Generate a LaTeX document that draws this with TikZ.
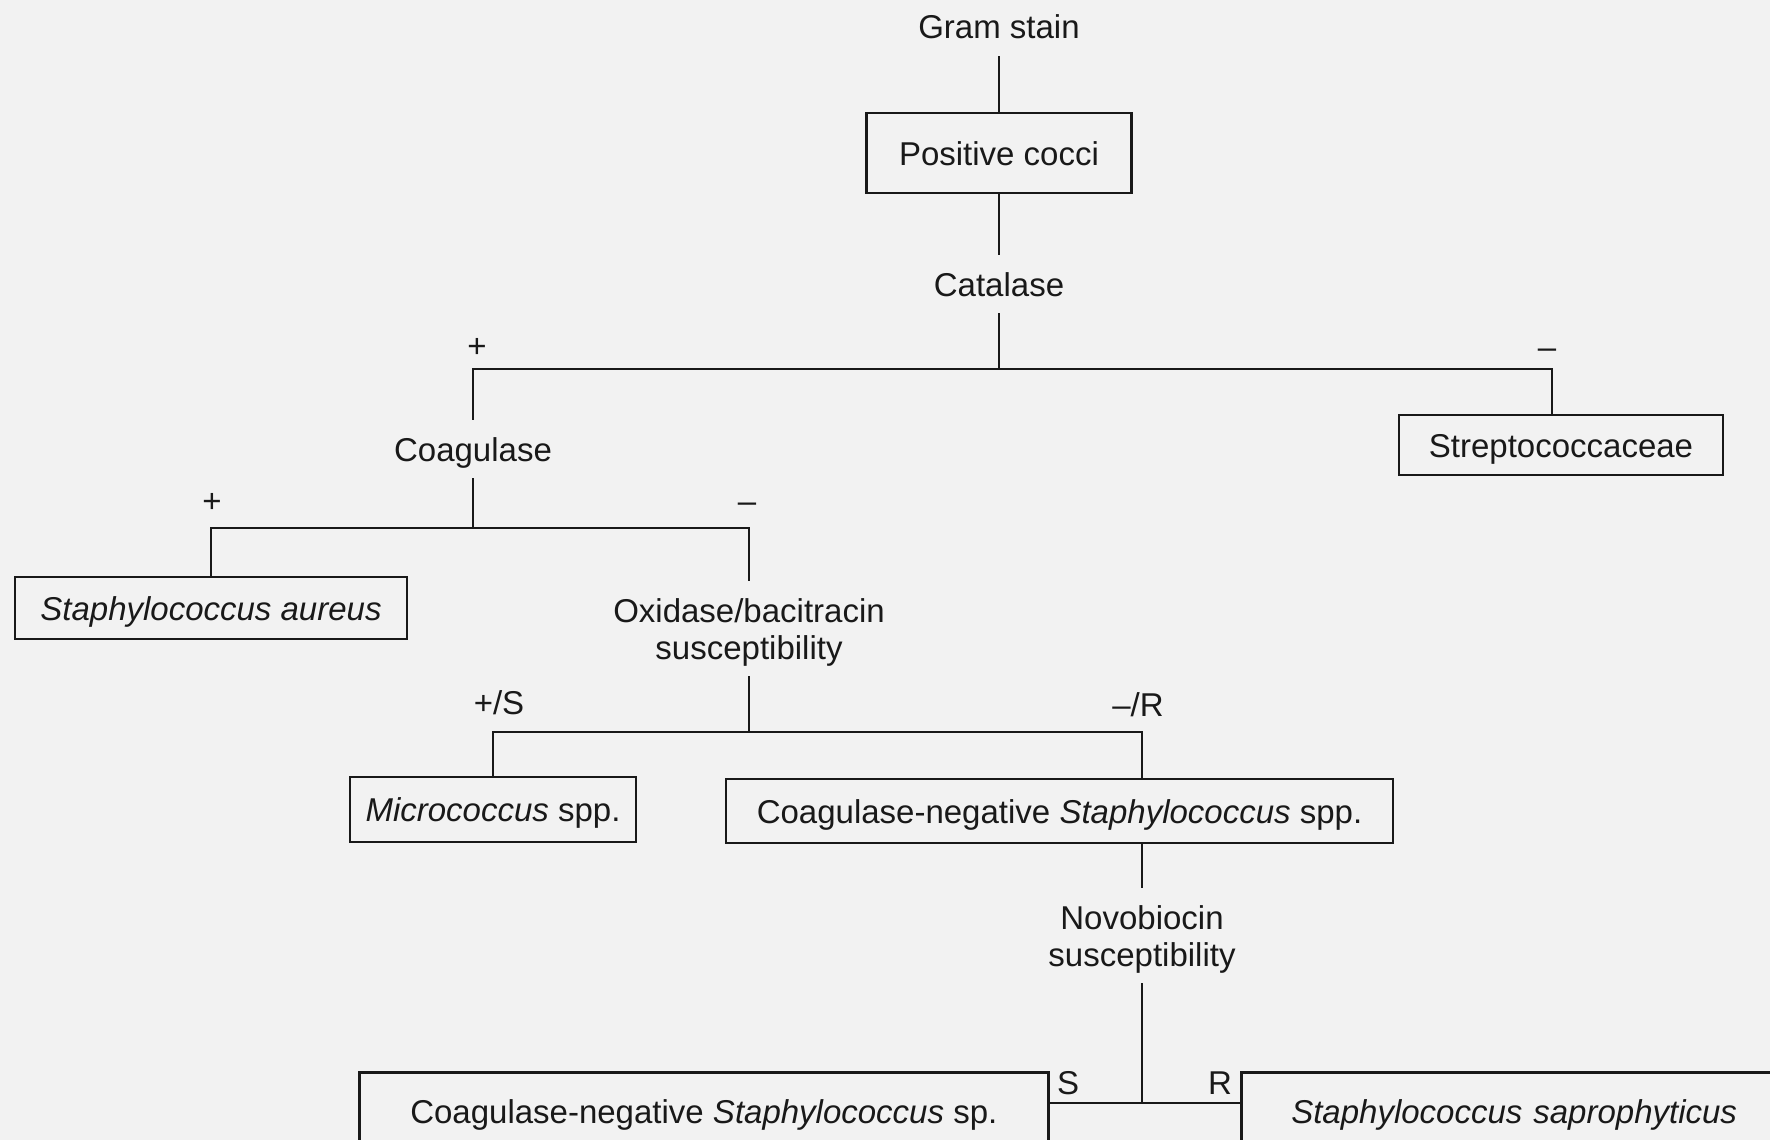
\documentclass[tikz,border=0pt]{standalone}
\usepackage{fontspec}
\setmainfont{Liberation Sans}
\newcommand{\fsz}{\fontsize{33}{37}\selectfont}
\definecolor{bgc}{RGB}{242,242,242}
\definecolor{ink}{RGB}{25,25,25}
\tikzset{
  lbl/.style={font=\fsz, text=ink, text height=24pt, text depth=0pt, inner xsep=2pt, inner ysep=17pt},
  box/.style={draw=ink, line width=2.6pt, font=\fsz, text=ink, text height=24pt, text depth=0pt, inner sep=0pt},
  tag/.style={font=\fsz, text=ink, text height=24pt, text depth=0pt, inner sep=0pt},
  conn/.style={draw=ink, line width=2.2pt}
}
\begin{document}
\begin{tikzpicture}[x=1pt,y=-1pt]
\useasboundingbox (0,0) rectangle (1770,1140);
\clip (0,0) rectangle (1770,1140);
\fill[bgc] (0,0) rectangle (1770,1140);

% nodes
\node[lbl] (gram) at (999,27) {Gram stain};
\node[box, minimum width=265pt, minimum height=80pt] (pos) at (999,153) {Positive cocci};
\node[lbl] (cat) at (999,284) {Catalase};
\coordinate (jcat) at (999,369);
\node[tag] (tplus1) at (477,345) {+};
\node[tag] (tminus1) at (1547,346) {–};
\node[lbl] (coag) at (473,449) {Coagulase};
\node[box, minimum width=324pt, minimum height=60pt] (strep) at (1561,445) {Streptococcaceae};
\coordinate (strepT) at (1552,415);
\coordinate (jcoag) at (473,528);
\node[tag] (tplus2) at (212,500) {+};
\node[tag] (tminus2) at (747,500) {–};
\node[box, minimum width=392pt, minimum height=62pt] (aur) at (211,608) {\itshape Staphylococcus aureus};
\node[lbl] (ox1) at (749,610) {Oxidase/bacitracin};
\node[lbl] (ox2) at (749,647) {susceptibility};
\coordinate (jox) at (749,732);
\node[tag] (tps) at (499,702) {+/S};
\node[tag] (tmr) at (1138,704) {–/R};
\node[box, minimum width=286pt, minimum height=65pt] (micro) at (493,809.5) {{\itshape Micrococcus} spp.};
\node[box, minimum width=667pt, minimum height=64pt] (cns) at (1059.5,811) {Coagulase-negative {\itshape Staphylococcus} spp.};
\coordinate (cnsT) at (1142,779);
\coordinate (cnsB) at (1142,843);
\node[lbl] (nov1) at (1142,917) {Novobiocin};
\node[lbl] (nov2) at (1142,954) {susceptibility};
\coordinate (jnov) at (1142,1103);
\node[tag] (ts) at (1068,1082) {S};
\node[tag] (tr) at (1220,1082) {R};
\node[box, anchor=north west, minimum width=689pt, minimum height=78pt] (cns2) at (358,1071) {Coagulase-negative {\itshape Staphylococcus} sp.};
\node[box, anchor=north west, text width=560pt, align=left, inner xsep=50pt, minimum height=78pt] (sap) at (1240,1071) {\itshape Staphylococcus saprophyticus};

% connectors
\draw[conn] (gram.south) -- (pos.north);
\draw[conn] (pos.south) -- (cat.north);
\draw[conn] (cat.south) -- (jcat);
\draw[conn] (coag.north) |- (jcat);
\draw[conn] (jcat) -| (strepT);
\draw[conn] (coag.south) -- (jcoag);
\draw[conn] (aur.north) |- (jcoag);
\draw[conn] (jcoag) -| (ox1.north);
\draw[conn] (ox2.south) -- (jox);
\draw[conn] (micro.north) |- (jox);
\draw[conn] (jox) -| (cnsT);
\draw[conn] (cnsB) -- (nov1.north);
\draw[conn] (nov2.south) -- (jnov);
\draw[conn] (cns2.east |- jnov) -- (sap.west |- jnov);
\end{tikzpicture}
\end{document}
